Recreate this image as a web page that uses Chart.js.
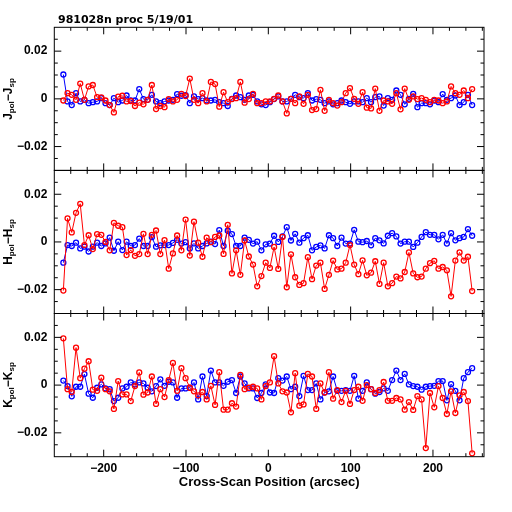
<!DOCTYPE html>
<html><head><meta charset="utf-8">
<script src="https://cdn.jsdelivr.net/npm/chart.js@4"></script>
<style>
html,body{margin:0;padding:0;background:#fff;}
#wrap{position:relative;width:512px;height:512px;overflow:hidden;background:#fff;}
canvas{position:absolute;left:0;top:0;}
.title{position:absolute;left:58px;top:14px;font:bold 11px "DejaVu Sans";color:#000;white-space:nowrap;line-height:1;}
.ylab{position:absolute;left:9px;font:bold 12px "Liberation Sans";color:#000;white-space:nowrap;line-height:1;transform:translate(-50%,-50%) rotate(-90deg);}
.ylab sub{font-size:8px;vertical-align:-2px;}
</style>
</head><body>
<div id="wrap">
<canvas id="c1" width="512" height="512"></canvas>
<canvas id="c2" width="512" height="512"></canvas>
<canvas id="c3" width="512" height="512"></canvas>
<div class="title">981028n proc 5/19/01</div>
<div class="ylab" style="top:99px">J<sub>pol</sub>−J<sub>sp</sub></div>
<div class="ylab" style="top:242px">H<sub>pol</sub>−H<sub>sp</sub></div>
<div class="ylab" style="top:385px">K<sub>pol</sub>−K<sub>sp</sub></div>
</div>
<script>
// Cross-scan positions (arcsec)
const xPos = [-249.0,-243.9,-238.8,-233.6,-228.5,-223.4,-218.3,-213.2,-208.0,-202.9,
-197.8,-192.7,-187.6,-182.4,-177.3,-172.2,-167.1,-162.0,-156.8,-151.7,
-146.6,-141.5,-136.4,-131.2,-126.1,-121.0,-115.9,-110.8,-105.6,-100.5,
-95.4,-90.3,-85.2,-80.0,-74.9,-69.8,-64.7,-59.6,-54.4,-49.3,
-44.2,-39.1,-34.0,-28.8,-23.7,-18.6,-13.5,-8.4,-3.2,1.9,
7.0,12.1,17.2,22.4,27.5,32.6,37.7,42.8,48.0,53.1,
58.2,63.3,68.4,73.6,78.7,83.8,88.9,94.0,99.2,104.3,
109.4,114.5,119.6,124.8,129.9,135.0,140.1,145.2,150.4,155.5,
160.6,165.7,170.8,176.0,181.1,186.2,191.3,196.4,201.6,206.7,
211.8,216.9,222.0,227.2,232.3,237.4,242.5,247.6];

// J band
const jBlue = [0.0102,-0.0011,-0.0026,0.0024,-0.0011,-0.0004,-0.0018,-0.0014,-0.0011,0.0003,
-0.0018,-0.0026,0.0003,-0.0014,-0.0007,0.0014,-0.0007,-0.0007,0.0041,-0.0001,
-0.0004,0.0017,-0.0011,-0.0018,-0.0011,-0.0007,-0.0004,0.002,0.0013,0.0015,
-0.0018,0.001,-0.0001,0.0003,-0.0007,-0.0007,-0.0004,-0.0014,-0.0018,-0.003,
0,0.0014,0.0007,-0.0004,0.0014,0.0017,-0.0011,-0.0023,-0.0026,-0.0014,
-0.0001,0.001,-0.0011,-0.0011,0,0.0017,0.0007,0.0003,0.0024,-0.0007,
-0.0001,-0.0004,-0.0018,-0.0011,-0.0023,-0.0018,-0.0007,-0.0014,-0.0021,-0.0011,
-0.0011,-0.0014,0.0003,-0.0014,0.0007,0.001,-0.0028,0.0003,-0.0004,0.0035,
0.0017,-0.0023,0,0.0021,-0.0035,-0.0018,-0.0018,-0.0023,-0.0007,-0.0014,
0.002,-0.0004,0.0003,0.0014,-0.0026,-0.0014,0.0017,-0.0026];
const jRed = [-0.0007,0.0024,0.0017,-0.0004,0.0064,-0.0004,0.0052,0.0058,0.0007,0.0006,
-0.0007,-0.0026,-0.0057,0.0009,0.0013,-0.0011,-0.0009,-0.003,-0.0016,-0.0023,
-0.0004,0.0058,-0.0043,-0.003,-0.0035,-0.0001,-0.0011,-0.0004,0.0021,0.0012,
0.0085,-0.0004,-0.0018,0.0024,-0.0011,0.0071,0.0062,-0.0033,0.0028,-0.0014,
-0.0001,0.0003,0.0071,-0.0016,-0.0001,0.0021,-0.0018,-0.0018,-0.0011,-0.0011,
0,0.0014,-0.0011,-0.0061,0,-0.0018,0.001,-0.0021,0.0017,-0.0047,
-0.0043,0.0038,-0.005,-0.0004,-0.0018,-0.0028,-0.0014,0.0024,0.0045,0,
-0.0021,0.0028,-0.0037,-0.004,0.0043,-0.005,-0.0007,-0.0011,-0.0021,0.0024,
-0.0044,0.0043,-0.0004,0.001,-0.0001,0.0003,-0.0004,-0.0014,-0.0004,-0.0007,
-0.0018,-0.0011,0.0052,0.0024,0.0017,0.0035,0.0003,0.0041];

// H band
const hBlue = [-0.0087,-0.0013,-0.0017,-0.0003,-0.0027,-0.002,-0.004,-0.002,-0.0003,-0.0017,
-0.0006,0.0018,-0.0037,0.0001,-0.0034,0.0001,-0.0017,-0.0013,0.0014,-0.0017,
-0.0017,0.002,-0.002,-0.0014,-0.0013,-0.0013,-0.0004,0.0009,-0.0007,-0.0001,
-0.0027,-0.0006,-0.0027,-0.0017,-0.0006,0.0001,-0.0009,0.005,-0.0017,0.0047,
0.0033,-0.0017,-0.0017,0.0018,0.0009,-0.0007,0.0001,-0.0035,-0.001,-0.0007,
0.0026,0,0.0023,0.0062,0.0006,0.0034,-0.0003,0.0016,0.0028,-0.0035,
-0.0021,-0.0014,-0.0027,0.0028,0.0016,-0.0017,0.0018,-0.0007,-0.0007,0.0051,
0.0001,-0.0001,0.0004,-0.0014,0.0016,0.0007,-0.0006,0.0026,0.0037,0.0023,
-0.0007,0.0001,0.0001,-0.0021,-0.0003,0.0021,0.0041,0.003,0.003,0.0011,
0.003,-0.0007,0.0037,0.0007,0.0016,0.0021,0.0054,0.0026];
const hRed = [-0.0204,0.0099,0.004,0.0122,0.016,-0.0013,0.0028,-0.003,0.0033,0.003,
0,-0.0035,0.008,0.0068,0.0062,-0.0055,-0.0034,-0.0058,-0.0051,0.0034,
-0.0051,0.003,0.0048,-0.0051,0.0008,-0.0112,-0.0048,0.0027,-0.0035,0.0094,
-0.0057,0.0085,-0.0003,-0.0062,0.0018,-0.0001,0.0021,0.0027,-0.005,0.0072,
-0.0132,-0.0035,-0.0138,0.0006,-0.0061,-0.0095,-0.0186,-0.0143,-0.0087,-0.0109,
-0.0021,-0.0113,0.0021,-0.019,-0.0052,-0.0148,-0.018,-0.0173,-0.0064,-0.0156,
-0.0099,-0.0087,-0.0197,-0.0138,-0.0078,-0.0115,-0.0112,-0.0087,-0.0013,-0.0095,
-0.0135,-0.0077,-0.014,-0.0129,-0.0081,-0.0176,-0.0087,-0.0186,-0.0173,-0.0145,
-0.0153,-0.0126,-0.0044,-0.0132,-0.0148,-0.0145,-0.0112,-0.0089,-0.0079,-0.0112,
-0.0105,-0.0119,-0.0228,-0.0078,-0.0044,-0.0078,-0.0062,-0.0206];

// K band
const kBlue = [0.0019,-0.0004,-0.0047,-0.0007,-0.0007,0.0046,-0.0036,-0.0053,-0.0011,0.0003,
-0.0014,-0.0017,-0.0067,-0.0053,-0.0014,-0.0007,0.0011,0.0003,0.0011,0.0007,
-0.0011,-0.0026,-0.0004,0.0024,-0.0003,0.0014,0.0011,-0.0053,-0.0014,-0.0014,
-0.0011,0.0011,-0.006,0.0036,-0.0046,0.0061,0.0011,0.0011,-0.0003,0.0014,
0.0021,-0.0033,0.0036,0.0007,-0.0014,-0.0014,-0.0054,-0.0033,0.0003,-0.0031,
-0.0033,0.0029,0.0019,0.0036,-0.0017,-0.0007,-0.0046,0.0039,-0.0021,-0.0021,
0.0007,-0.006,-0.0031,-0.0026,0.0036,-0.0024,-0.0024,-0.0021,-0.0024,0.0039,
-0.0057,-0.0024,0.0011,-0.0017,-0.0036,-0.0029,-0.0014,-0.0024,0.0021,0.0061,
0.0021,0.0047,0.0003,-0.0004,-0.0007,-0.0019,-0.0007,-0.0004,-0.0003,0.0017,
0.0017,-0.0064,0.0004,-0.0024,-0.0064,0.0029,0.0054,0.0071];
const kRed = [0.0196,-0.0017,-0.0029,0.0157,0.0029,0.0069,0.01,-0.0019,-0.0024,0.0031,
-0.0017,-0.0026,-0.01,0.0017,-0.0039,-0.0039,-0.0067,-0.0004,0.0053,-0.004,
-0.0031,0.0036,-0.0079,-0.0017,-0.005,0.0021,0.0093,-0.0024,0.0071,0.0029,
-0.0011,-0.0026,-0.0043,-0.0029,-0.006,-0.0003,-0.0083,0.0054,-0.0103,-0.0103,
-0.0076,-0.009,0.0043,-0.0017,-0.0011,-0.0007,-0.0014,-0.006,-0.0004,0.0011,
0.0121,0.0007,-0.0026,-0.0031,-0.0114,0.005,-0.0086,-0.0081,0.0047,0.0036,
-0.01,0.0007,-0.0031,0.0054,-0.0057,-0.0021,-0.0071,-0.0024,-0.0079,-0.0021,
-0.0007,-0.0066,0,-0.0017,-0.0033,-0.0021,0.0013,-0.0066,-0.0066,-0.0054,
-0.006,-0.0103,-0.0071,-0.0104,-0.0046,-0.006,-0.0264,-0.0033,-0.0093,-0.0004,
-0.0054,-0.0121,-0.0026,-0.0117,-0.0043,-0.0029,-0.0067,-0.0286];

// Tick values
const xTickLabels = [-200,-100,0,100,200];
const xTickMinor = [-240,-220,-200,-180,-160,-140,-120,-100,-80,-60,-40,-20,0,20,40,60,80,100,120,140,160,180,200,220,240,260];
const yTickLabels = [-0.02,0,0.02];
const yTickMinor = [-0.025,-0.02,-0.015,-0.01,-0.005,0,0.005,0.01,0.015,0.02,0.025];
const xMajor = [-200,-100,0,100,200];
const yMajor = [-0.02,0,0.02];

const BLUE = '#0000ff', RED = '#ff0000';
const tickFont = {family:'Liberation Sans', size:12, weight:'bold'};
const minus = v => (v < 0 ? '\u2212' : '') + Math.abs(v);

const framePlugin = {
  id:'frame',
  afterDatasetsDraw(chart){
    const {ctx, chartArea:a, scales:{x, y}} = chart;
    ctx.save();
    ctx.strokeStyle = '#000';
    ctx.lineWidth = 1;
    ctx.strokeRect(a.left, a.top, a.right - a.left, a.bottom - a.top);
    ctx.beginPath();
    for (const v of xTickMinor) {
      const p = x.getPixelForValue(v);
      if (p < a.left || p > a.right) continue;
      const L = xMajor.includes(v) ? 7 : 3.5;
      ctx.moveTo(p, a.bottom); ctx.lineTo(p, a.bottom - L);
      ctx.moveTo(p, a.top); ctx.lineTo(p, a.top + L);
    }
    for (const v of yTickMinor) {
      const p = y.getPixelForValue(v);
      const L = yMajor.some(m => Math.abs(m - v) < 1e-9) ? 7 : 3.5;
      ctx.moveTo(a.left, p); ctx.lineTo(a.left + L, p);
      ctx.moveTo(a.right, p); ctx.lineTo(a.right - L, p);
    }
    ctx.stroke();
    ctx.restore();
  }
};

function series(vals, color){
  return {
    data: xPos.map((x, i) => ({x, y: vals[i]})),
    borderColor: color,
    backgroundColor: color,
    borderWidth: 1,
    pointRadius: 2.5,
    pointBorderWidth: 1.3,
    pointBackgroundColor: 'rgba(0,0,0,0)',
    pointBorderColor: color,
    pointHoverRadius: 2.5,
    showLine: true,
    tension: 0,
    clip: 4
  };
}

function makeChart(id, blue, red, top, bottom, isBottom){
  new Chart(document.getElementById(id), {
    type: 'scatter',
    data: { datasets: [ series(red, RED), series(blue, BLUE) ] },
    plugins: [framePlugin],
    options: {
      responsive: false,
      animation: false,
      devicePixelRatio: 1,
      layout: { padding: { top: top, bottom: bottom, left: 0, right: 28 } },
      plugins: { legend: {display:false}, tooltip: {enabled:false} },
      scales: {
        x: {
          type: 'linear', min: -260, max: 262,
          display: isBottom,
          afterBuildTicks: s => { s.ticks = xTickLabels.map(v => ({value: v})); },
          afterFit: s => { s.height = isBottom ? 33.3 : 0; },
          grid: {display:false, drawTicks:false},
          border: {display:false},
          ticks: {padding: 5, font: tickFont, color:'#000', maxRotation:0, autoSkip:false, callback: v => minus(v)},
          title: {display: isBottom, text: 'Cross-Scan Position (arcsec)', color:'#000',
                  font: {family:'Liberation Sans', size:13, weight:'bold'}, padding: 0}
        },
        y: {
          type: 'linear', min: -0.03, max: 0.03,
          afterBuildTicks: s => { s.ticks = yTickLabels.map(v => ({value: v})); },
          afterFit: s => { s.width = 54.3; },
          grid: {display:false, drawTicks:false},
          border: {display:false},
          ticks: {padding: 7, font: tickFont, color:'#000',
                  callback: v => v === 0 ? '0' : (v < 0 ? '\u2212' : '') + Math.abs(v).toFixed(2)}
        }
      }
    }
  });
}

makeChart('c1', jBlue, jRed, 27.3, 512 - 170.4, false);
makeChart('c2', hBlue, hRed, 170.4, 512 - 313.5, false);
makeChart('c3', kBlue, kRed, 313.5, 22, true);
</script>
</body></html>
